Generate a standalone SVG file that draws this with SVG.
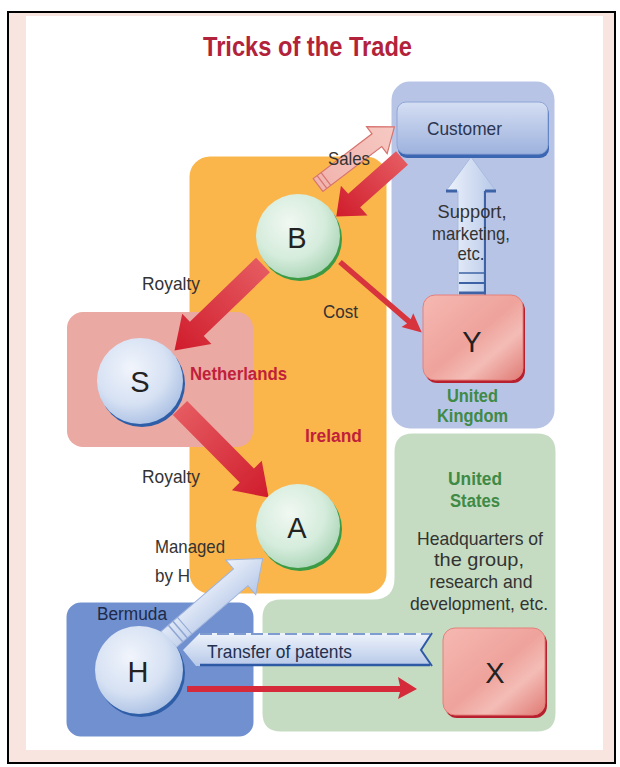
<svg xmlns="http://www.w3.org/2000/svg" width="620" height="767" viewBox="0 0 620 767">
<defs>
<style>
.t{font-family:"Liberation Sans",Arial,sans-serif;font-size:19px;fill:#333}
.tc{text-anchor:middle}
.b{font-weight:bold}
.let{font-family:"Liberation Sans",Arial,sans-serif;font-size:29px;fill:#222;text-anchor:middle}
.reg{stroke:#fff;stroke-width:3}
</style>
<radialGradient id="gG" cx="0.4" cy="0.35" r="0.7">
<stop offset="0" stop-color="#f1f8f2"/><stop offset="0.6" stop-color="#d5ecdc"/><stop offset="1" stop-color="#a9d4b5"/>
</radialGradient>
<radialGradient id="gB" cx="0.4" cy="0.35" r="0.7">
<stop offset="0" stop-color="#f1f5fc"/><stop offset="0.6" stop-color="#d6e1f3"/><stop offset="1" stop-color="#a9bfe3"/>
</radialGradient>
<linearGradient id="gR" x1="0" y1="0" x2="1" y2="1">
<stop offset="0" stop-color="#f6b8b2"/><stop offset="0.5" stop-color="#eea39c"/><stop offset="0.7" stop-color="#f4bcb6"/><stop offset="1" stop-color="#e07a74"/>
</linearGradient>
<linearGradient id="gC" x1="0" y1="0" x2="0" y2="1">
<stop offset="0" stop-color="#d5def3"/><stop offset="1" stop-color="#9db2dd"/>
</linearGradient>
<linearGradient id="aR" x1="0" y1="0" x2="1" y2="0">
<stop offset="0" stop-color="#e55a60"/><stop offset="1" stop-color="#d01c2c"/>
</linearGradient>
<linearGradient id="aP" x1="0" y1="0" x2="1" y2="0">
<stop offset="0" stop-color="#f1b3ad"/><stop offset="1" stop-color="#f6c9c2"/>
</linearGradient>
<linearGradient id="aB" x1="0" y1="0" x2="0" y2="1">
<stop offset="0" stop-color="#eef3fb"/><stop offset="1" stop-color="#b6c8e8"/>
</linearGradient>
</defs>

<!-- frame -->
<rect x="8" y="12" width="607" height="751" fill="#f8e5df" stroke="#000" stroke-width="2"/>
<rect x="26" y="16" width="577" height="734" fill="#fff"/>

<text x="307.5" y="56" class="tc b" font-family="'Liberation Sans',Arial,sans-serif" font-size="27" fill="#b3223b" textLength="209" lengthAdjust="spacingAndGlyphs">Tricks of the Trade</text>

<!-- regions -->
<g id="regions">
<rect id="uk" class="reg" x="390" y="80" width="166" height="350" rx="20" fill="#b8c4e6"/>
<path id="us" class="reg" d="M413,432 H537 Q557,432 557,452 V713 Q557,733 537,733 H281 Q261,733 261,713 V618 Q261,598 281,598 H373 Q393,598 393,578 V452 Q393,432 413,432 Z" fill="#c5dcc2"/>
<rect id="ireland" class="reg" x="188" y="155" width="200" height="440" rx="22" fill="#fbb64b"/>
<rect id="netherlands" x="67" y="312" width="186" height="135" rx="16" fill="#eaa9a2"/>
<rect id="bermuda" class="reg" x="65" y="601" width="190" height="137" rx="16" fill="#7190cf"/>
</g>

<!-- connectors -->
<g id="connectors">
<g transform="translate(318,185) rotate(-37.3)">
<polygon points="0,-8 74,-8 74,-17 96,0 74,17 74,8 0,8" fill="url(#aP)" stroke="#d77470" stroke-width="1.2"/>
<line x1="5" y1="-8" x2="5" y2="8" stroke="#d77470" stroke-width="1.2"/>
<line x1="10" y1="-8" x2="10" y2="8" stroke="#d77470" stroke-width="1.2"/>
</g>
<g transform="translate(402,158) rotate(138.3)">
<polygon points="0,-9 64,-9 64,-20 88,0 64,20 64,9 0,9" fill="url(#aR)"/>
</g>
<g transform="translate(263,265) rotate(136)">
<polygon points="0,-10 92,-10 92,-21 123,0 92,21 92,10 0,10" fill="url(#aR)"/>
</g>
<g transform="translate(180,408) rotate(45.3)">
<polygon points="0,-10 95,-10 95,-21 126,0 95,21 95,10 0,10" fill="url(#aR)"/>
</g>
<g transform="translate(340,262) rotate(40.8)">
<polygon points="0,-2.8 91,-2.8 89,-9 108,0 89,9 91,2.8 0,2.8" fill="#d8343d"/>
</g>
<g transform="translate(471,297) rotate(-90)">
<polygon points="0,-13 106,-13 106,-25 140,0 106,25 106,13 0,13" fill="url(#aB)" stroke="#a7bbe0" stroke-width="1"/>
<line x1="106" y1="-25" x2="106" y2="-14" stroke="#3d63a6" stroke-width="3"/>
<line x1="106" y1="14" x2="106" y2="25" stroke="#3d63a6" stroke-width="3"/>
<line x1="0" y1="14" x2="106" y2="14" stroke="#3d63a6" stroke-width="2"/>
<line x1="4" y1="-12" x2="4" y2="14" stroke="#3d63a6" stroke-width="3"/>
<line x1="14" y1="-12" x2="14" y2="14" stroke="#3d63a6" stroke-width="2"/>
<line x1="24" y1="-12" x2="24" y2="14" stroke="#3d63a6" stroke-width="1.5"/>
</g>
<g transform="translate(168,640) rotate(-40.75)">
<polygon points="0,-11 96,-11 96,-23 125,0 96,23 96,11 0,11" fill="url(#aB)" stroke="#9fb4dc" stroke-width="1"/>
<line x1="10" y1="-11" x2="10" y2="11" stroke="#8ea6d4" stroke-width="1.5"/>
<line x1="16" y1="-11" x2="16" y2="11" stroke="#8ea6d4" stroke-width="1.5"/>
<line x1="22" y1="-11" x2="22" y2="11" stroke="#8ea6d4" stroke-width="1"/>
</g>
<polygon points="200,633 432,633 421,650 432,666 196,666 183,650" fill="url(#aB)"/>
<line x1="200" y1="634" x2="430" y2="634" stroke="#7f9bcf" stroke-width="2" stroke-dasharray="12,5"/>
<line x1="200" y1="665" x2="430" y2="665" stroke="#2e5aa5" stroke-width="2.5"/>
<polyline points="432,633 421,650 432,666" fill="none" stroke="#2e5aa5" stroke-width="2"/>
<polygon points="187,686 400,686 398,677 417,689 398,699 400,692 187,692" fill="#d52a3a"/>
</g>

<!-- connector labels -->
<g id="labels">
<text class="t" x="328" y="165" textLength="42" lengthAdjust="spacingAndGlyphs">Sales</text>
<text class="t" x="142" y="290" textLength="58" lengthAdjust="spacingAndGlyphs">Royalty</text>
<text class="t" x="323" y="318" textLength="35" lengthAdjust="spacingAndGlyphs">Cost</text>
<text class="t" x="142" y="483" textLength="58" lengthAdjust="spacingAndGlyphs">Royalty</text>
<text class="t" x="155" y="553" textLength="70" lengthAdjust="spacingAndGlyphs">Managed</text>
<text class="t" x="155" y="582" textLength="35" lengthAdjust="spacingAndGlyphs">by H</text>
<text class="t" x="207" y="658" style="fill:#23304f" textLength="145" lengthAdjust="spacingAndGlyphs">Transfer of patents</text>
<text class="t tc" x="472" y="218" textLength="69" lengthAdjust="spacingAndGlyphs">Support,</text>
<text class="t tc" x="471" y="240" textLength="78" lengthAdjust="spacingAndGlyphs">marketing,</text>
<text class="t tc" x="471" y="260" textLength="27" lengthAdjust="spacingAndGlyphs">etc.</text>
</g>

<!-- region labels -->
<g id="region-labels">
<text class="t b" x="190" y="380" style="font-size:18px;fill:#c11f3b" textLength="97" lengthAdjust="spacingAndGlyphs">Netherlands</text>
<text class="t b" x="305" y="442" style="font-size:18px;fill:#c11f3b" textLength="57" lengthAdjust="spacingAndGlyphs">Ireland</text>
<text class="t b tc" x="472.5" y="402" style="font-size:18px;fill:#3f8a45" textLength="51" lengthAdjust="spacingAndGlyphs">United</text>
<text class="t b tc" x="472.5" y="422" style="font-size:18px;fill:#3f8a45" textLength="71" lengthAdjust="spacingAndGlyphs">Kingdom</text>
<text class="t b tc" x="475" y="485" style="font-size:18px;fill:#3f8a45" textLength="54" lengthAdjust="spacingAndGlyphs">United</text>
<text class="t b tc" x="475" y="507" style="font-size:18px;fill:#3f8a45" textLength="50" lengthAdjust="spacingAndGlyphs">States</text>
<text class="t tc" x="480" y="545" textLength="126" lengthAdjust="spacingAndGlyphs">Headquarters of</text>
<text class="t tc" x="479" y="566" textLength="90" lengthAdjust="spacingAndGlyphs">the group,</text>
<text class="t tc" x="481" y="588" textLength="103" lengthAdjust="spacingAndGlyphs">research and</text>
<text class="t tc" x="479" y="610" textLength="138" lengthAdjust="spacingAndGlyphs">development, etc.</text>
<text class="t" x="97" y="620" style="font-size:18px;fill:#1d2a4a" textLength="70" lengthAdjust="spacingAndGlyphs">Bermuda</text>
</g>

<!-- nodes -->
<g id="customer">
<rect x="398" y="105" width="151" height="53" rx="9" fill="#3b66b2"/>
<rect x="397" y="102" width="151" height="52" rx="9" fill="url(#gC)" stroke="#8ea5d6" stroke-width="1"/>
<text class="t tc" x="464.5" y="135" style="fill:#2b3551" textLength="75" lengthAdjust="spacingAndGlyphs">Customer</text>
</g>
<g id="node-b">
<circle cx="300" cy="239" r="42" fill="#3c9a45"/>
<circle cx="298" cy="236" r="42" fill="url(#gG)"/>
<text class="let" x="297" y="248">B</text>
</g>
<g id="node-s">
<circle cx="142" cy="384" r="43" fill="#2f5ea8"/>
<circle cx="140" cy="381" r="43" fill="url(#gB)"/>
<text class="let" x="140" y="392">S</text>
</g>
<g id="node-a">
<circle cx="300" cy="529" r="42" fill="#3c9a45"/>
<circle cx="298" cy="526" r="42" fill="url(#gG)"/>
<text class="let" x="297" y="538">A</text>
</g>
<g id="node-h">
<circle cx="141" cy="673" r="44" fill="#2f5ea8"/>
<circle cx="139" cy="670" r="44" fill="url(#gB)"/>
<text class="let" x="138" y="682">H</text>
</g>
<g id="node-y">
<rect x="425" y="298" width="100" height="85" rx="12" fill="#b8202f"/>
<rect x="423" y="295" width="100" height="85" rx="12" fill="url(#gR)" stroke="#e4807a" stroke-width="1"/>
<text class="let" x="472" y="352">Y</text>
</g>
<g id="node-x">
<rect x="445" y="631" width="102" height="87" rx="12" fill="#b8202f"/>
<rect x="443" y="628" width="102" height="87" rx="12" fill="url(#gR)" stroke="#e4807a" stroke-width="1"/>
<text class="let" x="495" y="683">X</text>
</g>
</svg>
